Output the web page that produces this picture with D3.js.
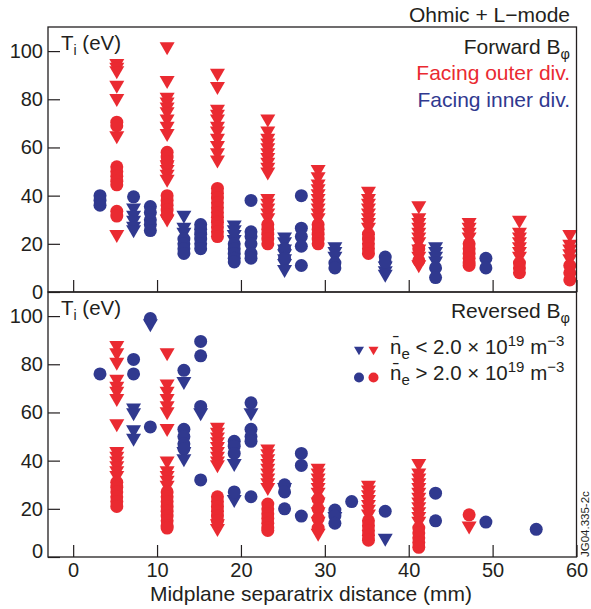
<!DOCTYPE html>
<html>
<head>
<meta charset="utf-8">
<script src="https://cdn.jsdelivr.net/npm/d3@7"></script>
<style>
  body { margin: 0; background: #fff; }
  text { font-family: "Liberation Sans", Arial, Helvetica, sans-serif; fill: #231f20; }
</style>
</head>
<body>
<svg id="chart" width="591" height="609"></svg>
<script>
// Ion temperature T_i (eV) versus midplane separatrix distance (mm).
// Each series: [distance (mm), [T_i values (eV)]]
// Triangles: n_e < 2.0e19 m^-3, circles: n_e > 2.0e19 m^-3

// Forward B_phi
const fwdOuterTri = [
  [5.2,  [94, 92.5, 91, 85, 79.5, 64, 23]],
  [11.2, [101, 87, 80, 78, 76, 74, 71, 68, 65, 52, 50, 48, 46, 29.5]],
  [17.2, [90, 84.5, 75, 73, 71, 68, 66, 63, 60, 57, 54]],
  [23.2, [71, 66, 63, 61, 59, 57, 55, 53, 51, 49, 38, 36, 34, 32, 30]],
  [29.2, [50, 47, 44, 42, 40, 38, 36, 34, 32, 30]],
  [35.2, [41, 38, 36, 34, 32, 30, 28, 26]],
  [41.2, [35, 30, 28, 26, 24, 22, 20, 17, 14, 10.5]],
  [47.2, [28, 26, 24, 22]],
  [53.2, [29, 24, 22, 20, 18, 16, 14]],
  [59.2, [23, 19, 17, 15, 13]]
];
const fwdOuterCirc = [
  [5.2,  [70.5, 69, 52, 50, 48, 46, 44.5, 33.5, 31.5]],
  [11.2, [58, 56, 54, 40, 38, 36, 34, 32]],
  [17.2, [43, 41, 39, 37, 35, 33, 31, 29, 27, 25, 23]],
  [23.2, [28, 26, 24, 22, 20]],
  [29.2, [28, 26, 24, 22, 20]],
  [35.2, [24, 22, 20, 18, 16]],
  [41.2, [18, 13]],
  [47.2, [20, 18, 16, 14, 12, 11]],
  [53.2, [12, 10, 8]],
  [59.2, [11, 8, 5]]
];
const fwdInnerTri = [
  [7.2,  [34, 31, 29, 26.5, 25]],
  [13.2, [31, 26, 24]],
  [19.2, [27, 25, 23, 21]],
  [25.2, [22, 20, 17, 15, 13, 11, 8.5]],
  [31.2, [18, 16, 14]],
  [37.2, [10, 8, 6.5]],
  [43.2, [18, 16, 14, 12]]
];
const fwdInnerCirc = [
  [3.2,  [40, 38, 36]],
  [7.2,  [39.5]],
  [9.2,  [35.5, 33, 30, 28, 25.5]],
  [13.2, [22, 20, 18, 16]],
  [15.2, [28, 26, 24, 22, 20, 18]],
  [19.2, [20, 18, 16, 14, 12.5]],
  [21.2, [38, 25, 23, 20, 16, 14]],
  [25.2, [18, 14]],
  [27.2, [40, 26.5, 23, 19, 11]],
  [31.2, [12, 10]],
  [37.2, [14.5, 12.5]],
  [43.2, [10, 6]],
  [49.2, [14, 10]]
];

// Reversed B_phi
const revOuterTri = [
  [5.2,  [87, 84, 80, 73, 70, 68, 65, 54.5, 43, 41, 39, 37, 35, 33]],
  [11.2, [84, 71, 68, 65, 62, 59.5, 52.5, 39, 35, 33, 31, 29]],
  [17.2, [53, 51, 49, 47, 45, 43, 41, 39, 37.5, 13, 11]],
  [23.2, [44, 42, 40, 38, 36, 34, 32, 30, 28]],
  [29.2, [36, 34, 32, 30, 28, 26, 22, 18, 14, 9]],
  [35.2, [29, 27, 25, 23, 21, 19, 17]],
  [41.2, [38, 34, 32, 30, 28, 26, 24, 22, 20, 18, 16, 14]],
  [47.2, [12]]
];
const revOuterCirc = [
  [5.2,  [31, 29, 27, 25, 23, 21]],
  [11.2, [27, 25, 23, 21, 19, 17, 15, 13, 12]],
  [17.2, [25, 23, 21, 19, 17, 15]],
  [23.2, [22, 20, 18, 16, 14, 12, 11]],
  [29.2, [24, 20, 16, 12]],
  [35.2, [15, 13, 11, 9, 7]],
  [41.2, [12, 10, 8, 6, 4]],
  [47.2, [17.5]]
];
const revInnerTri = [
  [7.2,  [61, 59, 52, 48.5]],
  [9.2,  [96]],
  [13.2, [72, 43, 40]],
  [15.2, [59]],
  [19.2, [38, 23]],
  [21.2, [59]],
  [25.2, [28]],
  [31.2, [16]],
  [37.2, [7]]
];
const revInnerCirc = [
  [3.2,  [76]],
  [7.2,  [82, 76]],
  [9.2,  [99, 54]],
  [13.2, [77.5, 53, 50, 47, 45]],
  [15.2, [89.5, 83.5, 62.5, 32]],
  [19.2, [48, 46, 43, 27]],
  [21.2, [64, 53, 50, 48, 25]],
  [25.2, [30, 27, 20]],
  [27.2, [43, 38, 17]],
  [31.2, [19.5, 17, 14]],
  [33.2, [23]],
  [37.2, [19]],
  [43.2, [26.5, 15]],
  [49.2, [14.5]],
  [55.2, [11.5]]
];

const xTicks = [0, 10, 20, 30, 40, 50, 60];
const yTicks = [0, 20, 40, 60, 80, 100];

const RED = "#ea2a31";
const BLUE = "#30398f";
const INK = "#231f20";

const svg = d3.select("#chart");
svg.append("rect").attr("width", 591).attr("height", 609).attr("fill", "#fff");

const x = d3.scaleLinear().domain([-3, 60]).range([48, 576.5]);
const yTop = d3.scaleLinear().domain([0, 110]).range([292, 27]);
const yBot = d3.scaleLinear().domain([0, 110]).range([557, 292]);

// downward triangle symbol, centred on its bounding box
function triDown(w, h) {
  return {
    draw(ctx) {
      ctx.moveTo(-w / 2, -h / 2);
      ctx.lineTo(w / 2, -h / 2);
      ctx.lineTo(0, h / 2);
      ctx.closePath();
    }
  };
}
const triPath = d3.symbol().type(triDown(15, 13))();
const legTriPath = d3.symbol().type(triDown(10, 8.5))();

const flatten = cols => cols.flatMap(([d, vals]) => vals.map(v => ({ d, v })));

function drawPanel(y, series) {
  const g = svg.append("g");
  series.forEach(({ data, color, shape }) => {
    const pts = flatten(data);
    if (shape === "circle") {
      g.append("g").selectAll("circle").data(pts).join("circle")
        .attr("cx", p => x(p.d)).attr("cy", p => y(p.v)).attr("r", 6.5)
        .attr("fill", color);
    } else {
      g.append("g").selectAll("path").data(pts).join("path")
        .attr("d", triPath)
        .attr("transform", p => `translate(${x(p.d)},${y(p.v)})`)
        .attr("fill", color);
    }
  });
}

drawPanel(yTop, [
  { data: fwdOuterTri, color: RED, shape: "tri" },
  { data: fwdOuterCirc, color: RED, shape: "circle" },
  { data: fwdInnerTri, color: BLUE, shape: "tri" },
  { data: fwdInnerCirc, color: BLUE, shape: "circle" }
]);
drawPanel(yBot, [
  { data: revOuterTri, color: RED, shape: "tri" },
  { data: revOuterCirc, color: RED, shape: "circle" },
  { data: revInnerTri, color: BLUE, shape: "tri" },
  { data: revInnerCirc, color: BLUE, shape: "circle" }
]);

// axes
function styleAxis(g) {
  g.select(".domain").remove();
  g.selectAll(".tick line").attr("stroke", INK).attr("stroke-width", 1.2);
  g.selectAll(".tick text").attr("fill", INK).style("font-size", "20px")
    .attr("font-family", null);
}

[yTop, yBot].forEach((y, i) => {
  const ax = svg.append("g").attr("transform", `translate(${x.range()[0]},0)`)
    .call(d3.axisLeft(y).tickValues(yTicks).tickSize(-12).tickPadding(5).tickFormat(d3.format("d")))
    .call(styleAxis);
  // lift the lower panel's zero label clear of the distance tick labels
  if (i === 1) ax.selectAll(".tick text").filter(d => d === 0).attr("dy", "0em");
});

svg.append("g").attr("transform", `translate(0,${yTop.range()[0]})`)
  .call(d3.axisBottom(x).tickValues(xTicks).tickSize(-12).tickFormat(""))
  .call(styleAxis);
svg.append("g").attr("transform", `translate(0,${yBot.range()[0]})`)
  .call(d3.axisBottom(x).tickValues(xTicks).tickSize(-12).tickPadding(6).tickFormat(d3.format("d")))
  .call(styleAxis);

// frames
[yTop, yBot].forEach(y => {
  svg.append("rect")
    .attr("x", x.range()[0]).attr("y", y.range()[1])
    .attr("width", x.range()[1] - x.range()[0])
    .attr("height", y.range()[0] - y.range()[1])
    .attr("fill", "none").attr("stroke", INK).attr("stroke-width", 1.3);
});

// axis titles
const FS = 21;
[yTop, yBot].forEach(y => {
  const t = svg.append("text").attr("x", 61).attr("y", y.range()[1] + 23).style("font-size", "20.5px");
  t.append("tspan").text("T");
  t.append("tspan").attr("dy", 5).style("font-size", "14px").text("i");
  t.append("tspan").attr("dy", -5).text(" (eV)");
});

svg.append("text").attr("x", 311).attr("y", 601).attr("text-anchor", "middle")
  .style("font-size", "21px").text("Midplane separatrix distance (mm)");

// annotations, top panel
svg.append("text").attr("x", 570).attr("y", 22).attr("text-anchor", "end")
  .style("font-size", FS + "px").text("Ohmic + L\u2212mode");

function bphi(label, yPos) {
  const t = svg.append("text").attr("x", 570).attr("y", yPos).attr("text-anchor", "end")
    .style("font-size", FS + "px");
  t.append("tspan").text(label + " B");
  t.append("tspan").attr("dy", 5).style("font-size", "14.5px").text("\u03c6");
}
bphi("Forward", 54);
svg.append("text").attr("x", 570).attr("y", 80).attr("text-anchor", "end")
  .style("font-size", FS + "px").style("fill", RED).text("Facing outer div.");
svg.append("text").attr("x", 570).attr("y", 107).attr("text-anchor", "end")
  .style("font-size", FS + "px").style("fill", BLUE).text("Facing inner div.");

// annotations, bottom panel
bphi("Reversed", 318);

const legendRows = [
  { shape: "tri", rel: "<", y: 351 },
  { shape: "circle", rel: ">", y: 377.5 }
];
legendRows.forEach(r => {
  [[359, BLUE], [373.5, RED]].forEach(([cx, c]) => {
    if (r.shape === "tri") {
      svg.append("path").attr("d", legTriPath)
        .attr("transform", `translate(${cx},${r.y})`).attr("fill", c);
    } else {
      svg.append("circle").attr("cx", cx).attr("cy", r.y).attr("r", 5).attr("fill", c);
    }
  });
  const t = svg.append("text").attr("x", 390).attr("y", r.y + 2.5).style("font-size", "20.5px");
  t.append("tspan").text("n\u0304");
  t.append("tspan").attr("dy", 5).style("font-size", "15px").text("e");
  t.append("tspan").attr("dy", -5).text(` ${r.rel} 2.0 \u00d7 10`);
  t.append("tspan").attr("dy", -8).style("font-size", "15px").text("19");
  t.append("tspan").attr("dy", 8).text(" m");
  t.append("tspan").attr("dy", -8).style("font-size", "15px").text("\u22123");
});

// figure reference code
svg.append("text").attr("transform", "translate(589,557) rotate(-90)")
  .style("font-size", "11.5px").text("JG04.335-2c");
</script>
</body>
</html>
